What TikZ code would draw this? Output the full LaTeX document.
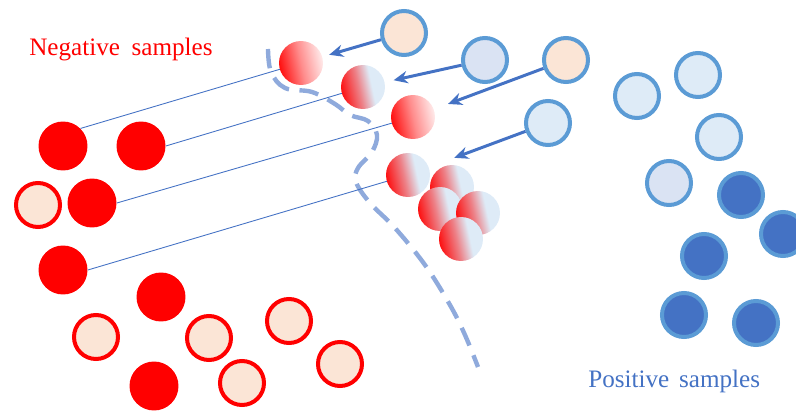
\documentclass[tikz,border=0pt]{standalone}
\usepackage{fontspec}
\setmainfont{Liberation Serif}
\usetikzlibrary{arrows.meta}
\definecolor{negred}{HTML}{FF0000}
\definecolor{peach}{HTML}{FBE5D6}
\definecolor{ringblue}{HTML}{5B9BD5}
\definecolor{deepblue}{HTML}{4472C4}
\definecolor{paleblue}{HTML}{DEEBF7}
\definecolor{lavender}{HTML}{DAE3F3}
\definecolor{dashblue}{HTML}{8FAADC}
\pgfdeclarehorizontalshading{redtoblue}{100bp}{color(0bp)=(negred); color(22bp)=(negred); color(45bp)=(negred!45!paleblue); color(60bp)=(paleblue); color(100bp)=(paleblue)}
\pgfdeclarehorizontalshading{redtowhite}{100bp}{color(0bp)=(negred); color(22bp)=(negred); color(50bp)=(negred!45!white); color(75bp)=(white!92!negred); color(100bp)=(white)}
\tikzset{
  negdot/.style={circle,fill=negred,minimum size=0.98cm,inner sep=0pt},
  negring/.style={circle,fill=peach,draw=negred,line width=0.08cm,minimum size=0.88cm,inner sep=0pt},
  posring/.style={circle,fill=paleblue,draw=ringblue,line width=0.08cm,minimum size=0.88cm,inner sep=0pt},
  posdot/.style={posring,fill=deepblue},
  mixdot/.style={circle,shade,shading=redtoblue,shading angle=12,minimum size=0.88cm,inner sep=0pt},
  fadedot/.style={mixdot,shading=redtowhite},
  link/.style={draw=deepblue,line width=0.5pt},
  pull/.style={draw=deepblue,line width=1.7pt,-{Stealth[length=8pt,width=7pt]}},
  boundary/.style={draw=dashblue,line width=2.5pt,dash pattern=on 11pt off 6pt},
  tag/.style={font=\fontsize{14.3}{17}\selectfont,inner sep=0pt,anchor=base west}
}

\begin{document}
\begin{tikzpicture}[x=0.02cm,y=-0.02cm]
  \useasboundingbox (0,0) rectangle (796,412);
  \node[tag,text=negred] (negtxt) at (29,56) {Negative\hspace{3pt} samples};
  \node[tag,text=deepblue] (postxt) at (588,388) {Positive\hspace{2pt} samples};
  % negative samples
  \node[negdot] (neg1) at (63,146) {}; \node[negdot] (neg2) at (141,146) {}; \node[negdot] (neg3) at (92,203) {};
  \node[negdot] (neg4) at (63,270) {}; \node[negdot] (neg5) at (161,297) {}; \node[negdot] (neg6) at (154,386) {};
  \node[negring] (ring1) at (38,205) {}; \node[negring] (ring2) at (96,337) {}; \node[negring] (ring3) at (209,338) {};
  \node[negring] (ring4) at (289,321) {}; \node[negring] (ring5) at (242,383) {}; \node[negring] (ring6) at (340,364) {};
  % positive samples
  \node[posring] (pos1) at (637,96) {}; \node[posring] (pos2) at (698,75) {}; \node[posring] (pos3) at (719,137) {};
  \node[posring,fill=lavender] (pos4) at (669,183) {};
  \node[posdot] (pos5) at (741,195) {}; \node[posdot] (pos6) at (783,234) {}; \node[posdot] (pos7) at (704,256) {};
  \node[posdot] (pos8) at (684,315) {}; \node[posdot] (pos9) at (756,323) {};
  % decision boundary
  \draw[boundary] plot[smooth,tension=0.6] coordinates {(268,49) (271,72) (285,88) (312,92) (335,104) (350,115) (368,121) (377,135) (372,152) (358,168) (356,182) (370,203) (395,228) (425,265) (450,305) (465,335) (478,367)};
  % mixed samples
  \coordinate (mix1c) at (301,63); \coordinate (mix2c) at (363,87); \coordinate (mix3c) at (413,117); \coordinate (mix4c) at (408,175);
  \draw[link] (neg1.north east) -- (mix1c); \draw[link] (neg2.east) -- (mix2c);
  \draw[link] (neg3.east) -- (mix3c); \draw[link] (neg4.east) -- (mix4c);
  \node[fadedot] (mix1) at (mix1c) {}; \node[mixdot] (mix2) at (mix2c) {}; \node[fadedot] (mix3) at (mix3c) {};
  \node[mixdot] (mix4) at (mix4c) {}; \node[mixdot] (mix5) at (452,187) {}; \node[mixdot] (mix6) at (440,209) {};
  \node[mixdot] (mix7) at (478,213) {}; \node[mixdot] (mix8) at (461,239) {};
  % sources pulled in
  \node[posring,fill=peach] (src1) at (404,33) {}; \node[posring,fill=lavender] (src2) at (485,60) {};
  \node[posring,fill=peach] (src3) at (566,60) {}; \node[posring] (src4) at (548,123) {};
  \draw[pull,shorten >=0.14cm] (src1) -- (mix1); \draw[pull,shorten >=0.18cm] (src2) -- (mix2);
  \draw[pull,shorten >=0.3cm] (src3) -- (mix3); \draw[pull,shorten >=0.54cm] (src4) -- (mix4);
\end{tikzpicture}
\end{document}
